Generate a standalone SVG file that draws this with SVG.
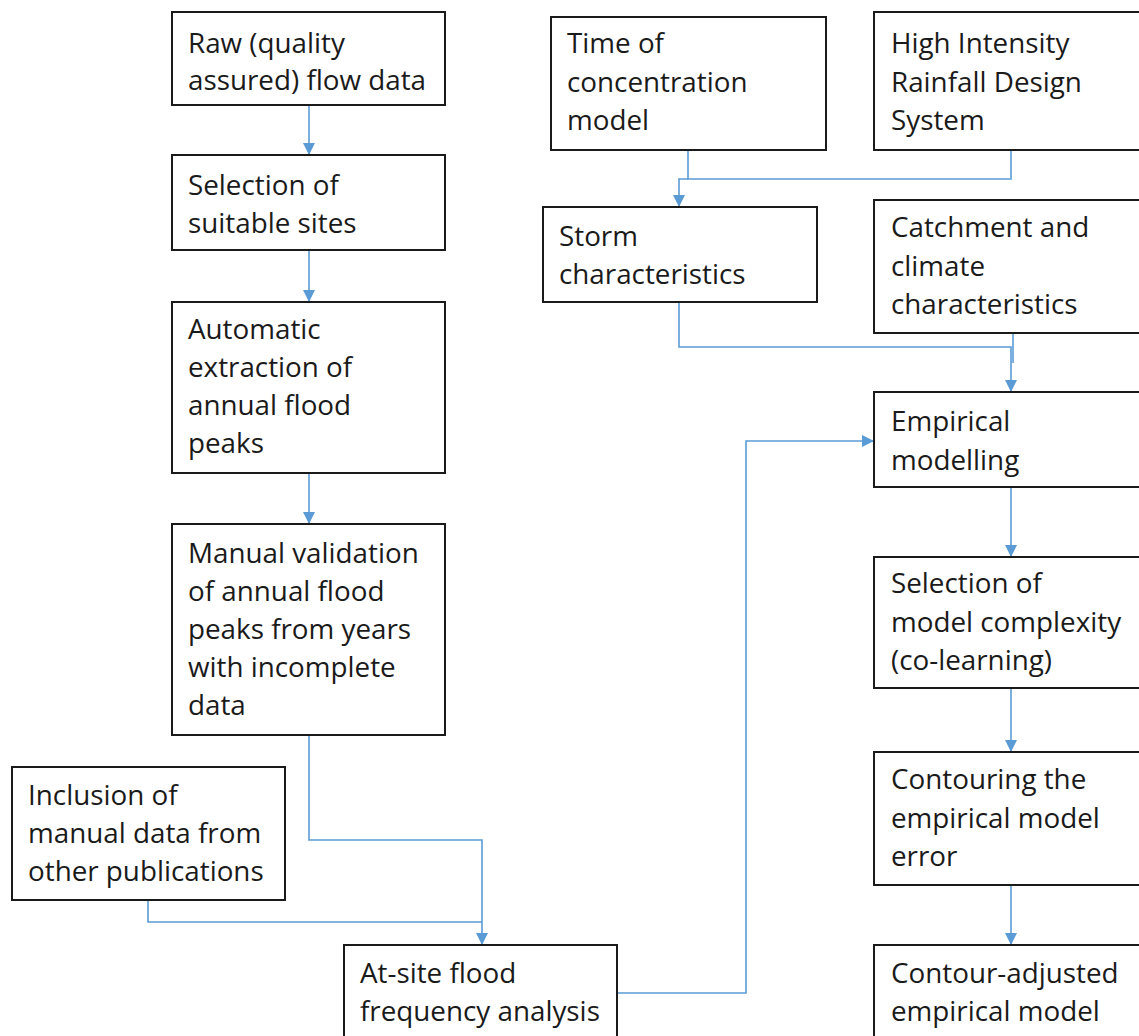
<svg xmlns="http://www.w3.org/2000/svg" width="1139" height="1036" viewBox="0 0 1139 1036">
<style>
.box{fill:#fff;stroke:#1a1a1a;stroke-width:2}
.t{font-family:"Open Sans","Liberation Sans",sans-serif;font-size:27.8px;fill:#1a1a1a}
.c{fill:none;stroke:#5B9BD5;stroke-width:1.6}
</style>
<defs>
<marker id="ah" viewBox="0 0 12 12" refX="12" refY="6" markerWidth="12" markerHeight="12" markerUnits="userSpaceOnUse" orient="auto">
<path d="M0,0 L12,6 L0,12 Z" fill="#5B9BD5"/>
</marker>
</defs>
<rect width="1139" height="1036" fill="#fff"/>
<g id="connectors">
<path class="c" d="M309,105 V155" marker-end="url(#ah)"/>
<path class="c" d="M309,250 V302" marker-end="url(#ah)"/>
<path class="c" d="M309,473 V524" marker-end="url(#ah)"/>
<path class="c" d="M309,735 V840 H482 V945" marker-end="url(#ah)"/>
<path class="c" d="M148,900 V922 H482"/>
<path class="c" d="M688,150 V179 H1011 V150"/>
<path class="c" d="M688,179 H679 V207" marker-end="url(#ah)"/>
<path class="c" d="M679,302 V347 H1011 V392" marker-end="url(#ah)"/>
<path class="c" d="M1013,333 V363"/>
<path class="c" d="M617,993 H746 V441 H874" marker-end="url(#ah)"/>
<path class="c" d="M1011,487 V557" marker-end="url(#ah)"/>
<path class="c" d="M1011,688 V752" marker-end="url(#ah)"/>
<path class="c" d="M1011,885 V945" marker-end="url(#ah)"/>
</g>
<g id="raw"><rect class="box" x="172" y="12" width="273" height="93"/>
<text class="t" x="188" y="53">Raw (quality</text><text class="t" x="188" y="90">assured) flow data</text></g>
<g id="selection-sites"><rect class="box" x="172" y="155" width="273" height="95"/>
<text class="t" x="188" y="195">Selection of</text><text class="t" x="188" y="233">suitable sites</text></g>
<g id="automatic"><rect class="box" x="172" y="302" width="273" height="171"/>
<text class="t" x="188" y="339">Automatic</text><text class="t" x="188" y="377">extraction of</text><text class="t" x="188" y="415">annual flood</text><text class="t" x="188" y="453">peaks</text></g>
<g id="manual"><rect class="box" x="172" y="524" width="273" height="211"/>
<text class="t" x="188" y="563">Manual validation</text><text class="t" x="188" y="601">of annual flood</text><text class="t" x="188" y="639">peaks from years</text><text class="t" x="188" y="677">with incomplete</text><text class="t" x="188" y="715">data</text></g>
<g id="inclusion"><rect class="box" x="12" y="767" width="273" height="133"/>
<text class="t" x="28" y="805">Inclusion of</text><text class="t" x="28" y="843">manual data from</text><text class="t" x="28" y="881">other publications</text></g>
<g id="atsite"><rect class="box" x="344" y="945" width="273" height="100"/>
<text class="t" x="360" y="983">At-site flood</text><text class="t" x="360" y="1021">frequency analysis</text></g>
<g id="time"><rect class="box" x="551" y="17" width="275" height="133"/>
<text class="t" x="567" y="53">Time of</text><text class="t" x="567" y="92">concentration</text><text class="t" x="567" y="130">model</text></g>
<g id="high"><rect class="box" x="874" y="12" width="280" height="138"/>
<text class="t" x="891" y="53">High Intensity</text><text class="t" x="891" y="92">Rainfall Design</text><text class="t" x="891" y="130">System</text></g>
<g id="storm"><rect class="box" x="543" y="207" width="274" height="95"/>
<text class="t" x="559" y="246">Storm</text><text class="t" x="559" y="284">characteristics</text></g>
<g id="catchment"><rect class="box" x="874" y="200" width="280" height="133"/>
<text class="t" x="891" y="237">Catchment and</text><text class="t" x="891" y="276">climate</text><text class="t" x="891" y="314">characteristics</text></g>
<g id="empirical"><rect class="box" x="874" y="392" width="280" height="95"/>
<text class="t" x="891" y="431">Empirical</text><text class="t" x="891" y="470">modelling</text></g>
<g id="complexity"><rect class="box" x="874" y="557" width="280" height="131"/>
<text class="t" x="891" y="593">Selection of</text><text class="t" x="891" y="632">model complexity</text><text class="t" x="891" y="670">(co-learning)</text></g>
<g id="contouring"><rect class="box" x="874" y="752" width="280" height="133"/>
<text class="t" x="891" y="789">Contouring the</text><text class="t" x="891" y="828">empirical model</text><text class="t" x="891" y="866">error</text></g>
<g id="contour-adjusted"><rect class="box" x="874" y="945" width="280" height="100"/>
<text class="t" x="891" y="983">Contour-adjusted</text><text class="t" x="891" y="1021">empirical model</text></g>
</svg>
